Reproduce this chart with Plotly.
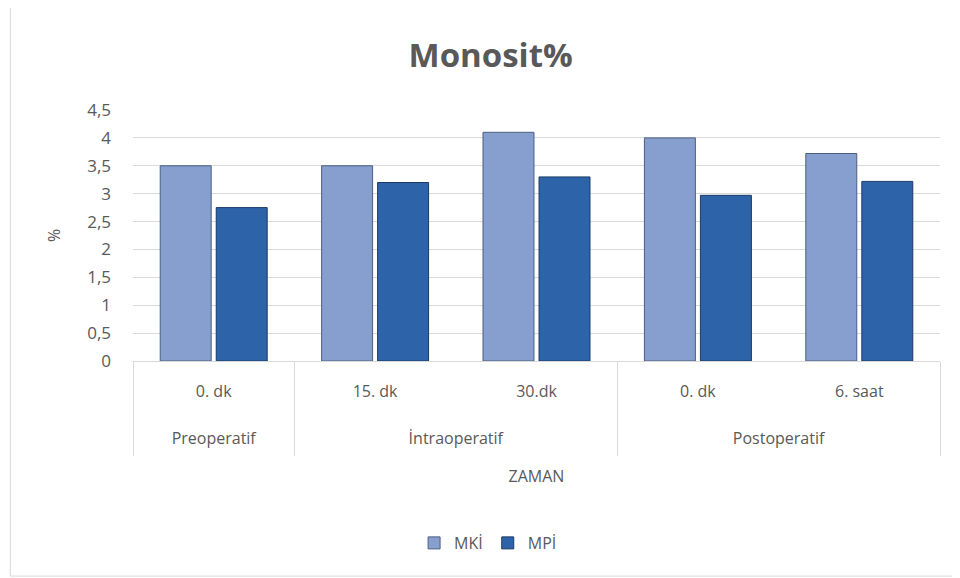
import plotly.graph_objects as go

phases = ["Preoperatif", "İntraoperatif", "İntraoperatif", "Postoperatif", "Postoperatif"]
times = ["0. dk", "15. dk", "30.dk", "0. dk", "6. saat"]
mki = [3.5, 3.5, 4.1, 4.0, 3.72]
mpi = [2.75, 3.2, 3.3, 2.97, 3.22]
y_ticks = [0, 0.5, 1, 1.5, 2, 2.5, 3, 3.5, 4, 4.5]
y_labels = ["0", "0,5", "1", "1,5", "2", "2,5", "3", "3,5", "4", "4,5"]

font = "Open Sans"
grey = "#595959"
line_grey = "#D9D9D9"

# unique keys for the category axis (times repeat between phases)
keys = [p + " " + t for p, t in zip(phases, times)]

# group centres and boundaries for the second label row and the dividers
group_names = []
group_idx = []
bounds = [-0.5]
for i, p in enumerate(phases):
    if not group_names or group_names[-1] != p:
        if group_names:
            bounds.append(i - 0.5)
        group_names.append(p)
        group_idx.append([i])
    else:
        group_idx[-1].append(i)
bounds.append(len(phases) - 0.5)
group_centres = [sum(g) / len(g) for g in group_idx]
xr = [-0.5, len(phases) - 0.5]

fig = go.Figure()
fig.add_trace(go.Bar(x=keys, y=mki, name="MKİ",
                     marker=dict(color="#869FCE", line=dict(color="#4A5F80", width=1))))
fig.add_trace(go.Bar(x=keys, y=mpi, name="MPİ",
                     marker=dict(color="#2D64A9", line=dict(color="#1B3A63", width=1))))
# invisible helpers so the overlay axes (phase row, dividers) get drawn
fig.add_trace(go.Scatter(x=group_centres, y=[0] * len(group_centres), xaxis="x2", mode="markers",
                         marker=dict(opacity=0), showlegend=False, hoverinfo="skip"))
fig.add_trace(go.Scatter(x=bounds, y=[0] * len(bounds), xaxis="x3", mode="markers",
                         marker=dict(opacity=0), showlegend=False, hoverinfo="skip"))

fig.update_layout(
    width=952, height=570,
    margin=dict(l=125, r=20, t=102, b=217),
    paper_bgcolor="white", plot_bgcolor="white",
    font=dict(family=font, color=grey, size=16),
    title=dict(text="<b>Monosit%</b>", x=0.507, xanchor="center", y=0.917, yanchor="middle",
               font=dict(size=33, color=grey, family=font)),
    barmode="group", bargap=0.306, bargroupgap=0.09,
    showlegend=True,
    legend=dict(orientation="h", x=0.44, xanchor="center", y=-0.725, yanchor="middle",
                font=dict(size=16, color=grey), itemwidth=30, traceorder="normal"),
    shapes=[dict(type="rect", xref="paper", yref="paper", x0=-0.152, x1=1.021, y0=-0.857, y1=1.418,
                 line=dict(color=line_grey, width=1), layer="below")],
    xaxis=dict(type="category", categoryarray=keys, tickvals=keys, ticktext=times, range=xr,
               showline=True, linecolor=line_grey, linewidth=1, showgrid=False, ticks="",
               tickfont=dict(size=16, color=grey), ticklabelstandoff=16),
    xaxis2=dict(overlaying="x", anchor="y", side="bottom", type="linear", range=xr,
                tickvals=group_centres, ticktext=group_names, showgrid=False, zeroline=False,
                showline=False, ticks="", tickfont=dict(size=16, color=grey), ticklabelstandoff=66,
                title=dict(text="ZAMAN", font=dict(size=16, color=grey), standoff=22)),
    xaxis3=dict(overlaying="x", anchor="y", side="bottom", type="linear", range=xr,
                tickvals=bounds, showticklabels=False, showgrid=False, zeroline=False,
                showline=False, ticks="outside", ticklen=94, tickcolor=line_grey, tickwidth=1),
)
fig.update_yaxes(range=[0, 4.5], tickvals=y_ticks, ticktext=y_labels, showgrid=True,
                 gridcolor=line_grey, zeroline=False, showline=False,
                 tickfont=dict(size=17, color=grey), ticks="", ticklabelstandoff=21,
                 title=dict(text="%", font=dict(size=16, color=grey), standoff=22))

fig.write_html("out.html")
